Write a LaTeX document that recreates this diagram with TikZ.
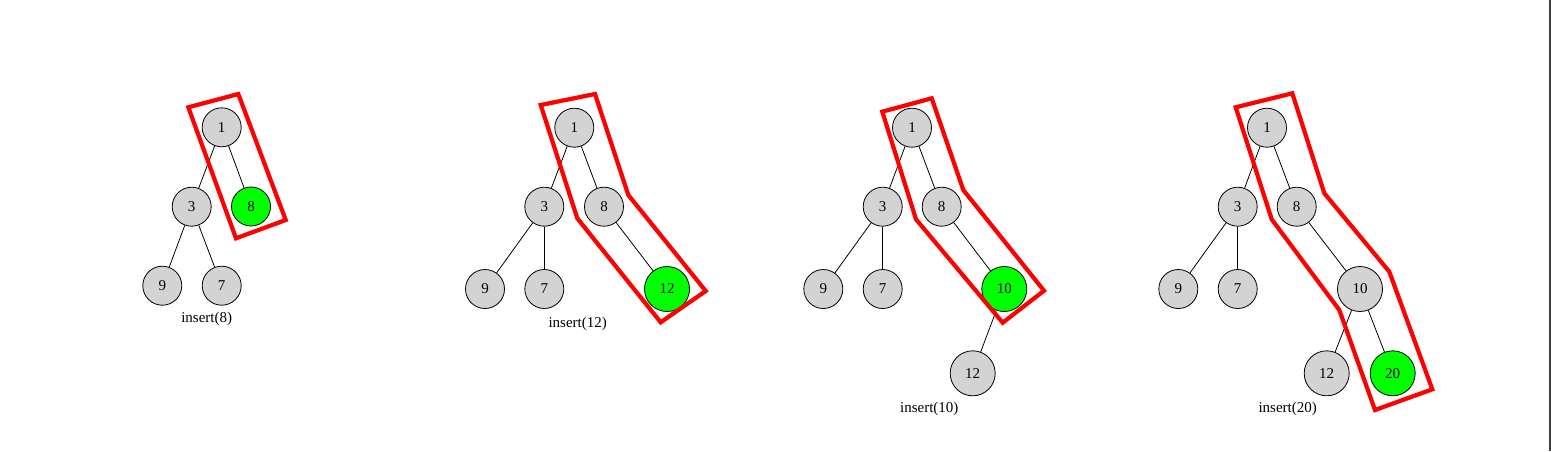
\documentclass[tikz,border=0pt]{standalone}
\usepackage{fontspec}
\setmainfont{Liberation Serif}
\definecolor{nodegray}{HTML}{D3D3D3}
\definecolor{nodegreen}{HTML}{00FF00}
\definecolor{framegray}{HTML}{3C3F42}
\tikzset{
  tnode/.style={circle, draw=black, line width=0.8pt, fill=nodegray, minimum size=39pt, inner sep=0pt, font=\fontsize{15}{17}\selectfont},
  bignode/.style={tnode, minimum size=45pt},
  newnode/.style={fill=nodegreen},
  tedge/.style={draw=black, line width=0.8pt},
  hilite/.style={draw=red, line width=4.2pt, line join=miter},
  caption/.style={font=\fontsize{15}{17}\selectfont, inner sep=0pt}
}
\begin{document}
\begin{tikzpicture}[x=1pt,y=-1pt]
\useasboundingbox (0,0) rectangle (1551,451);
\fill[white] (0,0) rectangle (1551,451);

% ---------- tree 1: insert(8)
\node[tnode] (a1) at (221.7,127.3) {1};
\node[tnode] (a3) at (191.7,206.7) {3};
\node[tnode,newnode] (a8) at (251,206.5) {8};
\node[tnode] (a9) at (162.3,285.7) {9};
\node[tnode] (a7) at (221.7,285.7) {7};
\draw[tedge] (a1) -- (a3);
\draw[tedge] (a1) -- (a8);
\draw[tedge] (a3) -- (a9);
\draw[tedge] (a3) -- (a7);
\node[caption] (la) at (206.7,319) {insert(8)};
\draw[hilite] (188.3,107.3) -- (238.3,94) -- (285.7,220) -- (236,238.3) -- cycle;

% ---------- tree 2: insert(12)
\node[tnode] (b1) at (574.3,127.7) {1};
\node[tnode] (b3) at (544.3,206.7) {3};
\node[tnode] (b8) at (604,206.7) {8};
\node[tnode] (b9) at (485,289) {9};
\node[tnode] (b7) at (544.3,289) {7};
\node[bignode,newnode] (b12) at (667,289) {12};
\draw[tedge] (b1) -- (b3);
\draw[tedge] (b1) -- (b8);
\draw[tedge] (b3) -- (b9);
\draw[tedge] (b3) -- (b7);
\draw[tedge] (b8) -- (b12);
\node[caption] (lb) at (577.7,324.3) {insert(12)};
\draw[hilite] (540.7,105) -- (595,94) -- (628.3,195) -- (705.7,291) -- (660.7,322.3) -- (577.3,218.3) -- cycle;

% ---------- tree 3: insert(10)
\node[tnode] (c1) at (912,127.7) {1};
\node[tnode] (c3) at (882.7,206.7) {3};
\node[tnode] (c8) at (941.7,206.7) {8};
\node[tnode] (c9) at (823.3,289) {9};
\node[tnode] (c7) at (882.7,289) {7};
\node[bignode,newnode] (c10) at (1004.3,289) {10};
\node[bignode] (c12) at (972.7,373.3) {12};
\draw[tedge] (c1) -- (c3);
\draw[tedge] (c1) -- (c8);
\draw[tedge] (c3) -- (c9);
\draw[tedge] (c3) -- (c7);
\draw[tedge] (c8) -- (c10);
\draw[tedge] (c10) -- (c12);
\node[caption] (lc) at (929.3,409.3) {insert(10)};
\draw[hilite] (882.3,111.7) -- (931.7,98.3) -- (963.3,190) -- (1044,290.7) -- (1002.7,322.7) -- (916,219.3) -- cycle;

% ---------- tree 4: insert(20)
\node[tnode] (d1) at (1267,127.7) {1};
\node[tnode] (d3) at (1237.7,206.7) {3};
\node[tnode] (d8) at (1296.7,206.7) {8};
\node[tnode] (d9) at (1178.3,289) {9};
\node[tnode] (d7) at (1237.7,289) {7};
\node[bignode] (d10) at (1360,289) {10};
\node[bignode] (d12) at (1326.7,373.3) {12};
\node[bignode,newnode] (d20) at (1392.7,373.3) {20};
\draw[tedge] (d1) -- (d3);
\draw[tedge] (d1) -- (d8);
\draw[tedge] (d3) -- (d9);
\draw[tedge] (d3) -- (d7);
\draw[tedge] (d8) -- (d10);
\draw[tedge] (d10) -- (d12);
\draw[tedge] (d10) -- (d20);
\node[caption] (ld) at (1287.7,409.3) {insert(20)};
\draw[hilite] (1235.7,107.3) -- (1292.3,93.3) -- (1324.3,193.3) -- (1389.3,271.7) -- (1432.3,389.3) -- (1375,410) -- (1339.3,310) -- (1271.7,219.3) -- cycle;

% right frame line
\fill[framegray] (1548.7,0) rectangle (1551,451);
\end{tikzpicture}
\end{document}
